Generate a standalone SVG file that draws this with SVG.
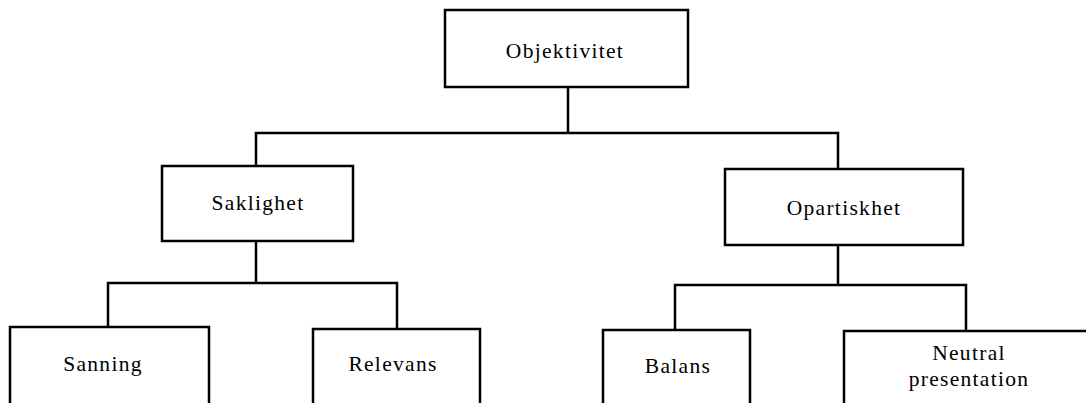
<svg xmlns="http://www.w3.org/2000/svg" width="1086" height="403" viewBox="0 0 1086 403">
<style>
.box{fill:#fff;stroke:#000;stroke-width:2.5}
.conn{fill:none;stroke:#000;stroke-width:2.5;stroke-linecap:square}
.lbl{font-family:"Liberation Serif","Times New Roman",serif;font-size:21.5px;letter-spacing:1.3px;fill:#000;text-anchor:middle}
</style>
<rect width="1086" height="403" fill="#fff"/>
<g id="connectors">
<path class="conn" d="M568 87V133M256 133H838M256 133V166M838 133V169"/>
<path class="conn" d="M256 241V283M108 283H397M108 283V327M397 283V329"/>
<path class="conn" d="M838 245V285M675 285H966M675 285V330M966 285V331"/>
</g>
<g id="objektivitet"><rect class="box" x="445" y="10" width="243" height="77"/><text class="lbl" x="565" y="58">Objektivitet</text></g>
<g id="saklighet"><rect class="box" x="162" y="166" width="191" height="75"/><text class="lbl" x="258" y="210">Saklighet</text></g>
<g id="opartiskhet"><rect class="box" x="725" y="169" width="238" height="76"/><text class="lbl" x="844" y="215">Opartiskhet</text></g>
<g id="sanning"><rect class="box" x="10" y="327" width="199" height="90"/><text class="lbl" x="103" y="371">Sanning</text></g>
<g id="relevans"><rect class="box" x="313" y="329" width="167" height="90"/><text class="lbl" x="393" y="371">Relevans</text></g>
<g id="balans"><rect class="box" x="603" y="330" width="147" height="90"/><text class="lbl" x="678" y="373">Balans</text></g>
<g id="neutral"><rect class="box" x="844" y="331" width="260" height="90"/><text class="lbl" x="969" y="360">Neutral</text><text class="lbl" x="969" y="386">presentation</text></g>
</svg>
